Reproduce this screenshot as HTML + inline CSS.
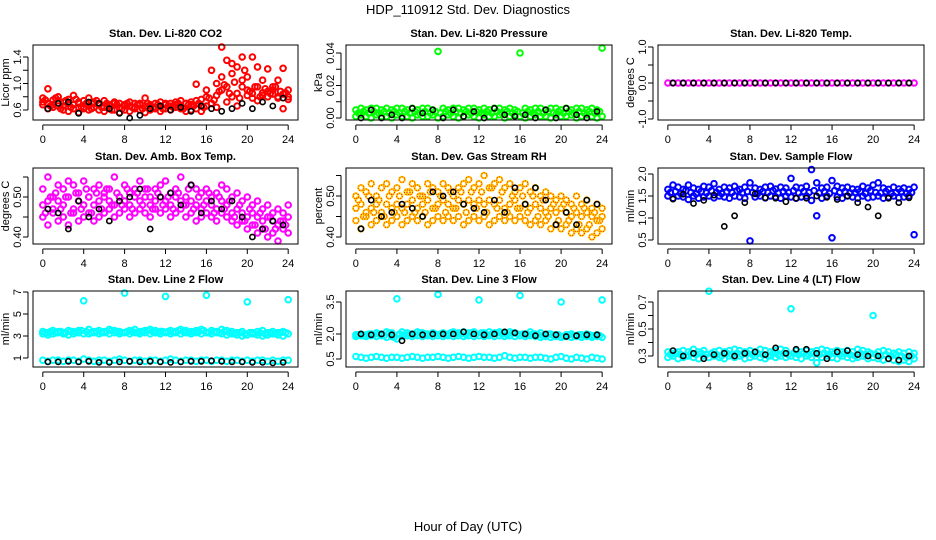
<!DOCTYPE html>
<html><head><meta charset="utf-8"><style>
html,body{margin:0;padding:0;background:#fff;}
svg{display:block;font-family:"Liberation Sans",sans-serif;}
</style></head><body>
<svg id="chart" width="936" height="540" viewBox="0 0 936 540" xmlns="http://www.w3.org/2000/svg">
<rect width="936" height="540" fill="#fff"/>
<text x="468" y="14" text-anchor="middle" font-size="13">HDP_110912  Std. Dev. Diagnostics</text>
<text x="468" y="531" text-anchor="middle" font-size="13">Hour of Day (UTC)</text>
<g id="panels"></g>
</svg>
<script>
const HOURS=[0,0.5,1,1.5,2,2.5,3,3.5,4,4.5,5,5.5,6,6.5,7,7.5,8,8.5,9,9.5,10,10.5,11,11.5,12,12.5,13,13.5,14,14.5,15,15.5,16,16.5,17,17.5,18,18.5,19,19.5,20,20.5,21,21.5,22,22.5,23,23.5,24];
const Q_HOURS=[0.25,0.75,1.25,1.75,2.25,2.75,3.25,3.75,4.25,4.75,5.25,5.75,6.25,6.75,7.25,7.75,8.25,8.75,9.25,9.75,10.25,10.75,11.25,11.75,12.25,12.75,13.25,13.75,14.25,14.75,15.25,15.75,16.25,16.75,17.25,17.75,18.25,18.75,19.25,19.75,20.25,20.75,21.25,21.75,22.25,22.75,23.25,23.75];
const BLACK_HOURS=[0.5,1.5,2.5,3.5,4.5,5.5,6.5,7.5,8.5,9.5,10.5,11.5,12.5,13.5,14.5,15.5,16.5,17.5,18.5,19.5,20.5,21.5,22.5,23.5];
const X_TICKS=[0,4,8,12,16,20,24];

const co2Hi=[0.78,0.92,0.75,0.80,0.72,0.76,0.82,0.70,0.74,0.78,0.72,0.70,0.74,0.68,0.72,0.70,0.66,0.72,0.70,0.68,0.78,0.66,0.70,0.72,0.68,0.70,0.72,0.74,0.70,0.72,0.99,0.76,0.80,1.20,0.82,1.55,1.35,1.30,1.25,1.40,1.10,1.40,1.25,1.05,1.22,0.95,1.05,1.23,0.90];
const co2Mid=[0.72,0.70,0.68,0.74,0.66,0.70,0.68,0.72,0.64,0.66,0.70,0.68,0.64,0.66,0.70,0.64,0.68,0.66,0.64,0.70,0.66,0.68,0.64,0.66,0.70,0.66,0.68,0.66,0.70,0.68,0.74,0.66,0.90,0.70,1.0,1.10,0.95,1.15,0.85,1.05,0.90,0.85,0.95,0.82,0.88,0.84,0.80,0.84,0.76];
const co2Lo=[0.68,0.62,0.64,0.66,0.60,0.58,0.62,0.56,0.62,0.60,0.64,0.60,0.58,0.62,0.60,0.56,0.60,0.58,0.62,0.60,0.56,0.60,0.62,0.58,0.62,0.60,0.64,0.62,0.58,0.60,0.62,0.58,0.66,0.70,0.64,0.90,0.72,0.80,0.66,0.95,0.82,0.78,0.74,0.86,0.80,0.90,0.78,0.62,0.80];
const co2Q=[0.75,0.66,0.78,0.62,0.74,0.64,0.76,0.65,0.70,0.62,0.74,0.64,0.70,0.60,0.68,0.62,0.70,0.64,0.68,0.62,0.70,0.63,0.68,0.62,0.66,0.64,0.70,0.62,0.68,0.66,0.70,0.64,0.78,0.75,0.88,0.98,0.85,1.02,0.78,1.20,0.88,0.95,0.80,0.92,0.85,0.95,0.88,0.86];
const co2Black=[0.62,0.70,0.72,0.55,0.72,0.70,0.62,0.55,0.48,0.52,0.62,0.66,0.60,0.64,0.58,0.66,0.62,0.58,0.62,0.70,0.62,0.72,0.66,0.78];

const presHi=[0.005,0.006,0.005,0.006,0.006,0.005,0.006,0.005,0.006,0.006,0.005,0.006,0.005,0.006,0.006,0.005,0.041,0.006,0.005,0.006,0.006,0.005,0.006,0.006,0.005,0.006,0.005,0.006,0.006,0.005,0.006,0.005,0.040,0.006,0.005,0.006,0.006,0.005,0.006,0.006,0.005,0.006,0.005,0.006,0.006,0.005,0.006,0.005,0.043];
const presLo=[0.001,0.002,0.001,0.000,0.002,0.001,0.001,0.000,0.002,0.001,0.001,0.000,0.002,0.001,0.001,0.002,0.000,0.001,0.002,0.001,0.000,0.001,0.002,0.001,0.000,0.002,0.001,0.001,0.002,0.000,0.001,0.002,0.001,0.000,0.001,0.002,0.001,0.001,0.000,0.002,0.001,0.001,0.002,0.000,0.001,0.002,0.001,0.000,0.001];
const presQ=[0.003,0.004,0.003,0.004,0.003,0.004,0.003,0.004,0.003,0.004,0.003,0.004,0.003,0.004,0.003,0.004,0.003,0.004,0.003,0.004,0.003,0.004,0.003,0.004,0.003,0.004,0.003,0.004,0.003,0.004,0.003,0.004,0.003,0.004,0.003,0.004,0.003,0.004,0.003,0.004,0.003,0.004,0.003,0.004,0.003,0.004,0.003,0.004];
const presBlack=[0.000,0.005,0.000,0.002,0.000,0.006,0.003,0.005,0.000,0.005,0.001,0.004,0.000,0.006,0.002,0.001,0.002,0.000,0.005,0.000,0.006,0.002,0.000,0.004];

const tempVals=[0,0,0,0,0,0,0,0,0,0,0,0,0,0,0,0,0,0,0,0,0,0,0,0,0,0,0,0,0,0,0,0,0,0,0,0,0,0,0,0,0,0,0,0,0,0,0,0,0];
const tempBlack=[0,0,0,0,0,0,0,0,0,0,0,0,0,0,0,0,0,0,0,0,0,0,0,0];

const ambHi=[0.52,0.55,0.50,0.53,0.52,0.54,0.53,0.51,0.54,0.50,0.52,0.53,0.51,0.52,0.55,0.50,0.53,0.51,0.52,0.54,0.52,0.50,0.52,0.53,0.54,0.51,0.52,0.55,0.50,0.53,0.52,0.51,0.52,0.50,0.51,0.53,0.52,0.50,0.51,0.49,0.50,0.48,0.49,0.47,0.48,0.46,0.47,0.46,0.48];
const ambMid=[0.48,0.49,0.47,0.49,0.48,0.50,0.47,0.49,0.48,0.50,0.48,0.49,0.50,0.49,0.48,0.50,0.49,0.48,0.50,0.49,0.50,0.48,0.49,0.50,0.49,0.48,0.50,0.49,0.48,0.49,0.48,0.47,0.49,0.48,0.47,0.49,0.48,0.46,0.47,0.46,0.45,0.46,0.45,0.44,0.45,0.44,0.43,0.44,0.45];
const ambLo=[0.45,0.43,0.46,0.44,0.45,0.43,0.46,0.44,0.45,0.46,0.44,0.45,0.46,0.47,0.45,0.46,0.47,0.45,0.46,0.47,0.46,0.45,0.47,0.46,0.47,0.45,0.46,0.47,0.45,0.46,0.44,0.45,0.46,0.45,0.44,0.46,0.45,0.44,0.43,0.44,0.42,0.43,0.41,0.42,0.40,0.41,0.39,0.42,0.41];
const ambQ=[0.46,0.50,0.51,0.47,0.50,0.46,0.51,0.47,0.52,0.46,0.51,0.47,0.52,0.48,0.51,0.48,0.52,0.47,0.51,0.48,0.52,0.47,0.51,0.48,0.50,0.47,0.51,0.48,0.52,0.47,0.50,0.48,0.51,0.46,0.50,0.47,0.49,0.45,0.48,0.44,0.47,0.43,0.46,0.42,0.45,0.42,0.44,0.43];
const ambBlack=[0.47,0.46,0.42,0.49,0.45,0.47,0.44,0.49,0.50,0.52,0.42,0.50,0.51,0.48,0.53,0.46,0.49,0.47,0.49,0.45,0.40,0.42,0.44,0.43];

const rhHi=[0.50,0.52,0.51,0.53,0.50,0.52,0.53,0.51,0.52,0.54,0.51,0.53,0.52,0.50,0.53,0.52,0.51,0.53,0.52,0.50,0.52,0.53,0.54,0.52,0.53,0.55,0.52,0.53,0.54,0.52,0.53,0.51,0.52,0.53,0.51,0.52,0.50,0.51,0.50,0.49,0.50,0.49,0.48,0.50,0.48,0.49,0.47,0.48,0.47];
const rhMid=[0.47,0.48,0.46,0.47,0.48,0.46,0.48,0.47,0.48,0.47,0.48,0.49,0.47,0.48,0.49,0.47,0.48,0.49,0.48,0.47,0.49,0.48,0.49,0.48,0.49,0.48,0.49,0.48,0.49,0.47,0.48,0.49,0.47,0.48,0.47,0.48,0.47,0.46,0.47,0.46,0.47,0.46,0.45,0.46,0.45,0.46,0.45,0.44,0.45];
const rhLo=[0.44,0.42,0.45,0.43,0.44,0.45,0.43,0.44,0.45,0.43,0.44,0.45,0.44,0.45,0.43,0.44,0.45,0.44,0.45,0.44,0.45,0.43,0.44,0.45,0.44,0.45,0.43,0.44,0.45,0.44,0.45,0.44,0.45,0.44,0.43,0.44,0.43,0.44,0.42,0.43,0.42,0.43,0.41,0.42,0.41,0.42,0.40,0.41,0.42];
const rhQ=[0.49,0.45,0.50,0.46,0.49,0.45,0.50,0.46,0.50,0.46,0.51,0.46,0.50,0.46,0.51,0.47,0.50,0.46,0.51,0.47,0.51,0.46,0.51,0.47,0.51,0.46,0.52,0.47,0.51,0.46,0.50,0.47,0.50,0.46,0.50,0.45,0.49,0.45,0.48,0.44,0.48,0.44,0.47,0.43,0.47,0.43,0.46,0.44];
const rhBlack=[0.42,0.49,0.45,0.46,0.48,0.47,0.45,0.51,0.50,0.51,0.48,0.47,0.46,0.49,0.46,0.52,0.48,0.52,0.49,0.43,0.46,0.43,0.49,0.48];

const flowHi=[1.65,1.75,1.70,1.65,1.75,1.68,1.65,1.72,1.70,1.78,1.65,1.70,1.68,1.72,1.65,1.70,1.80,1.68,1.65,1.70,1.72,1.66,1.70,1.68,1.90,1.70,1.68,1.72,2.10,1.80,1.68,1.70,1.85,1.72,1.68,1.70,1.66,1.65,1.72,1.68,1.75,1.80,1.68,1.65,1.70,1.66,1.68,1.65,1.70];
const flowLo=[1.50,1.45,1.50,1.48,1.42,1.50,1.45,1.48,1.50,1.46,1.50,1.48,1.45,1.50,1.48,1.45,0.48,1.48,1.50,1.46,1.50,1.48,1.45,1.50,1.48,1.45,1.48,1.50,1.40,1.05,1.45,1.50,0.55,1.48,1.45,1.50,1.48,1.45,1.50,1.46,1.48,1.50,1.45,1.48,1.50,1.46,1.48,1.50,0.62];
const flowQ=[1.58,1.60,1.56,1.62,1.58,1.55,1.60,1.57,1.62,1.58,1.56,1.60,1.58,1.62,1.57,1.60,1.58,1.56,1.60,1.58,1.62,1.57,1.60,1.58,1.62,1.57,1.60,1.58,1.62,1.57,1.60,1.56,1.62,1.58,1.60,1.57,1.58,1.60,1.56,1.62,1.58,1.57,1.60,1.56,1.58,1.60,1.56,1.58];
const flowBlack=[1.43,1.54,1.33,1.40,1.52,0.81,1.05,1.35,1.55,1.46,1.45,1.37,1.45,1.45,1.50,1.47,1.42,1.50,1.35,1.25,1.05,1.45,1.35,1.46];

const l2Hi=[3.4,3.3,3.5,3.4,3.3,3.5,3.4,3.5,6.2,3.6,3.4,3.5,3.4,3.6,3.5,3.4,6.9,3.5,3.6,3.4,3.5,3.6,3.5,3.4,6.6,3.5,3.4,3.6,3.5,3.4,3.5,3.6,6.7,3.5,3.4,3.6,3.5,3.4,3.3,3.4,6.1,3.3,3.4,3.5,3.3,3.4,3.3,3.4,6.3];
const l2Mid=[3.2,3.1,3.2,3.3,3.2,3.1,3.2,3.3,3.2,3.2,3.3,3.2,3.3,3.2,3.3,3.2,3.3,3.2,3.3,3.2,3.3,3.2,3.3,3.2,3.3,3.2,3.3,3.2,3.3,3.2,3.3,3.2,3.3,3.2,3.3,3.2,3.1,3.2,3.1,3.0,3.1,3.2,3.1,3.0,3.1,3.2,3.1,3.0,3.2];
const l2Q=[3.3,3.4,3.3,3.4,3.3,3.4,3.3,3.5,3.4,3.3,3.4,3.3,3.4,3.5,3.4,3.3,3.4,3.4,3.3,3.4,3.5,3.4,3.3,3.4,3.4,3.3,3.5,3.4,3.3,3.4,3.4,3.5,3.3,3.4,3.3,3.4,3.3,3.2,3.3,3.2,3.3,3.2,3.3,3.2,3.3,3.2,3.3,3.3];
const l2Lo=[0.8,0.7,0.8,0.8,0.7,0.8,0.8,0.7,0.9,0.8,0.7,0.8,0.8,0.7,0.8,0.9,0.8,0.7,0.8,0.8,0.7,0.8,0.8,0.7,0.8,0.9,0.8,0.7,0.8,0.8,0.7,0.8,0.8,0.7,0.8,0.8,0.7,0.8,0.8,0.7,0.8,0.7,0.8,0.8,0.7,0.8,0.7,0.8,0.8];
const l2Black=[0.65,0.65,0.7,0.65,0.7,0.6,0.6,0.65,0.7,0.65,0.7,0.65,0.6,0.65,0.7,0.7,0.75,0.7,0.65,0.65,0.6,0.6,0.55,0.6];

const l3Hi=[1.95,2.0,1.95,2.0,2.05,2.0,2.1,2.05,3.65,2.1,2.05,2.0,2.1,2.05,2.0,2.05,3.85,2.05,2.0,2.1,2.05,2.1,2.05,2.1,3.6,2.05,2.1,2.05,2.1,2.05,2.1,2.05,3.8,2.0,2.1,2.0,2.05,1.95,2.0,1.95,3.5,1.95,2.0,1.9,1.95,2.0,1.9,1.95,3.6];
const l3Mid=[1.85,1.9,1.85,1.9,1.85,1.9,1.8,1.85,1.7,1.85,1.9,1.85,1.9,1.85,1.9,1.85,1.9,1.85,1.9,1.85,1.9,1.85,1.9,1.85,1.9,1.85,1.9,1.85,1.9,1.85,1.9,1.85,1.9,1.85,1.9,1.85,1.8,1.85,1.8,1.85,1.8,1.85,1.8,1.85,1.8,1.85,1.8,1.85,1.8];
const l3Q=[1.95,1.9,2.0,1.95,2.0,1.9,2.05,1.8,2.0,1.95,2.0,1.95,2.05,2.0,1.95,2.0,2.0,1.95,2.05,2.0,2.0,1.95,2.05,2.0,2.05,1.95,2.0,2.05,2.0,1.95,2.05,2.0,2.0,1.95,2.0,1.95,1.9,2.0,1.9,1.95,1.85,1.95,1.9,1.95,1.9,1.95,1.9,1.9];
const l3Lo=[0.65,0.6,0.55,0.6,0.65,0.6,0.55,0.6,0.6,0.55,0.6,0.65,0.6,0.55,0.6,0.6,0.65,0.6,0.55,0.6,0.65,0.6,0.55,0.6,0.65,0.6,0.6,0.55,0.6,0.7,0.6,0.55,0.6,0.6,0.55,0.6,0.6,0.55,0.5,0.6,0.65,0.55,0.5,0.6,0.55,0.5,0.6,0.55,0.5];
const l3Black=[2.0,1.95,2.0,1.95,1.6,2.0,1.95,2.0,2.0,2.0,2.1,2.0,1.95,2.0,2.1,2.05,2.0,1.9,2.0,1.95,1.85,1.9,1.95,1.95];

const l4Hi=[0.33,0.32,0.33,0.34,0.33,0.35,0.33,0.34,0.78,0.33,0.34,0.33,0.34,0.35,0.34,0.33,0.34,0.33,0.35,0.34,0.33,0.34,0.35,0.34,0.65,0.34,0.33,0.34,0.33,0.34,0.35,0.34,0.33,0.34,0.33,0.34,0.33,0.35,0.34,0.33,0.60,0.33,0.34,0.33,0.32,0.33,0.32,0.33,0.32];
const l4Lo=[0.29,0.30,0.28,0.29,0.30,0.29,0.28,0.30,0.29,0.30,0.29,0.28,0.30,0.29,0.30,0.28,0.29,0.30,0.29,0.28,0.30,0.29,0.30,0.29,0.30,0.29,0.28,0.30,0.29,0.25,0.29,0.30,0.29,0.28,0.30,0.29,0.28,0.29,0.30,0.28,0.29,0.28,0.27,0.28,0.27,0.26,0.27,0.26,0.28];
const l4Q=[0.31,0.32,0.31,0.30,0.32,0.31,0.32,0.31,0.32,0.31,0.30,0.32,0.31,0.32,0.31,0.32,0.31,0.32,0.31,0.30,0.32,0.31,0.32,0.31,0.32,0.31,0.32,0.31,0.32,0.31,0.32,0.31,0.32,0.31,0.32,0.31,0.30,0.32,0.31,0.32,0.31,0.30,0.31,0.30,0.31,0.30,0.29,0.30];
const l4Black=[0.34,0.30,0.32,0.28,0.31,0.32,0.30,0.32,0.33,0.31,0.36,0.32,0.35,0.35,0.32,0.28,0.33,0.34,0.31,0.30,0.30,0.28,0.27,0.30];

const NS="http://www.w3.org/2000/svg";
const root=document.getElementById('panels');
function mk(tag,attrs,parent){const e=document.createElementNS(NS,tag);for(const k in attrs)e.setAttribute(k,attrs[k]);parent.appendChild(e);return e;}

const COLS=[{l:33,r:298},{l:346,r:612},{l:658,r:924}];
const ROWS=[{t:45,b:120},{t:168,b:244},{t:291,b:367}];

const panels=[
 {id:'co2',title:'Stan. Dev. Li-820 CO2',ylab:'Licor ppm',c:0,r:0,color:'#ff0000',series:[co2Hi,co2Mid,co2Lo],q:co2Q,black:co2Black,av:[0.6,1.4],ap:[110,57],ticks:[0.6,0.8,1.0,1.2,1.4],labels:['0.6','','1.0','','1.4']},
 {id:'pressure',title:'Stan. Dev. Li-820 Pressure',ylab:'kPa',c:1,r:0,color:'#00ff00',series:[presHi,presLo],q:presQ,black:presBlack,av:[0,0.04],ap:[118,53],ticks:[0,0.01,0.02,0.03,0.04],labels:['0.00','','0.02','','0.04']},
 {id:'temp',title:'Stan. Dev. Li-820 Temp.',ylab:'degrees C',c:2,r:0,color:'#ff00ff',series:[tempVals],q:null,black:tempBlack,av:[-1,1],ap:[119,47],ticks:[-1,-0.5,0,0.5,1],labels:['-1.0','','0.0','','1.0']},
 {id:'ambbox',title:'Stan. Dev. Amb. Box Temp.',ylab:'degrees C',c:0,r:1,color:'#ff00ff',series:[ambHi,ambMid,ambLo],q:ambQ,black:ambBlack,av:[0.4,0.5],ap:[237,197],ticks:[0.40,0.45,0.50,0.55],labels:['0.40','','0.50','']},
 {id:'rh',title:'Stan. Dev. Gas Stream RH',ylab:'percent',c:1,r:1,color:'#ffcc00',dots:true,series:[rhHi,rhMid,rhLo],q:rhQ,black:rhBlack,av:[0.4,0.5],ap:[237,196],ticks:[0.40,0.45,0.50,0.55],labels:['0.40','','0.50','']},
 {id:'sampleflow',title:'Stan. Dev. Sample Flow',ylab:'ml/min',c:2,r:1,color:'#0000ff',series:[flowHi,flowLo],q:flowQ,black:flowBlack,av:[0.5,2.0],ap:[240,174],ticks:[0.5,1.0,1.5,2.0],labels:['0.5','1.0','1.5','2.0']},
 {id:'line2',title:'Stan. Dev. Line 2 Flow',ylab:'ml/min',c:0,r:2,color:'#00ffff',series:[l2Hi,l2Mid,l2Lo],q:l2Q,black:l2Black,av:[1,7],ap:[358,292],ticks:[1,3,5,7],labels:['1','3','5','7']},
 {id:'line3',title:'Stan. Dev. Line 3 Flow',ylab:'ml/min',c:1,r:2,color:'#00ffff',series:[l3Hi,l3Mid,l3Lo],q:l3Q,black:l3Black,av:[0.5,2.0,3.5],ap:[359,334,302],ticks:[0.5,2.0,3.5],labels:['0.5','2.0','3.5']},
 {id:'line4',title:'Stan. Dev. Line 4 (LT) Flow',ylab:'ml/min',c:2,r:2,color:'#00ffff',series:[l4Hi,l4Lo],q:l4Q,black:l4Black,av:[0.3,0.7],ap:[356,302],ticks:[0.3,0.4,0.5,0.6,0.7],labels:['0.3','','0.5','','0.7']}
];

function yScale(p,v){const a=p.av,b=p.ap;let i=0;while(i<a.length-2&&v>a[i+1])i++;return b[i]+(v-a[i])*(b[i+1]-b[i])/(a[i+1]-a[i]);}

panels.forEach(p=>{
 const C=COLS[p.c],R=ROWS[p.r];
 const x0=C.l+(C.r-C.l)*0.04/1.08,x1=C.r-(C.r-C.l)*0.04/1.08;
 const xs=h=>x0+(h/24)*(x1-x0);
 const g=mk('g',{},root);
 
 
 const t=mk('text',{x:(C.l+C.r)/2,y:R.t-8,'text-anchor':'middle','font-size':'11','font-weight':'bold'},g);
 t.textContent=p.title;
 
 
 const yl=mk('text',{x:0,y:0,'text-anchor':'middle','font-size':'11',transform:`translate(${C.l-24},${(R.t+R.b)/2}) rotate(-90)`},g);
 yl.textContent=p.ylab;
 
 
 const pts=mk('g',{fill:'none'},g);
 
 
 function drawPt(h,v){
   const cx=xs(h),cy=yScale(p,v);
   const c=mk('circle',{cx:cx.toFixed(1),cy:cy.toFixed(1),r:2.8,stroke:p.color,'stroke-width':2},pts);
   
   
   if(p.dots){const d=mk('circle',{cx:cx.toFixed(1),cy:cy.toFixed(1),r:2.8,stroke:'#ff2000','stroke-width':1,'stroke-dasharray':'1 1.5'},pts);
     
     }
 }
 p.series.forEach(s=>{s.forEach((v,i)=>drawPt(HOURS[i],v));});
 if(p.q)p.q.forEach((v,i)=>drawPt(Q_HOURS[i],v));
 const bp=mk('g',{fill:'none'},g);
 
 
 p.black.forEach((v,i)=>{
   const c=mk('circle',{cx:xs(BLACK_HOURS[i]).toFixed(1),cy:yScale(p,v).toFixed(1),r:2.6,stroke:'#000','stroke-width':1.6},bp);
   
   
 });
 const box=mk('rect',{x:C.l,y:R.t,width:C.r-C.l,height:R.b-R.t,fill:'none',stroke:'#000','stroke-width':1},g);
 
 
 const xa=mk('g',{},g);
 
 
 mk('line',{x1:xs(0),x2:xs(24),y1:R.b+5,y2:R.b+5,stroke:'#000'},xa);
 X_TICKS.forEach(h=>{
   mk('line',{x1:xs(h),x2:xs(h),y1:R.b+5,y2:R.b+10,stroke:'#000'},xa);
   const tl=mk('text',{x:xs(h),y:R.b+23,'text-anchor':'middle','font-size':'11'},xa);
   tl.textContent=String(h);
   
   
 });
 const ya=mk('g',{},g);
 
 
 const ty=p.ticks.map(v=>yScale(p,v));
 mk('line',{x1:C.l-5,x2:C.l-5,y1:Math.min(...ty),y2:Math.max(...ty),stroke:'#000'},ya);
 p.ticks.forEach((v,i)=>{
   mk('line',{x1:C.l-10,x2:C.l-5,y1:ty[i],y2:ty[i],stroke:'#000'},ya);
   if(p.labels[i]){const tl=mk('text',{x:0,y:0,'text-anchor':'middle','font-size':'11',transform:`translate(${C.l-12},${ty[i]}) rotate(-90)`},ya);
     tl.textContent=p.labels[i];
     
     }
 });
});
</script>
</body></html>
